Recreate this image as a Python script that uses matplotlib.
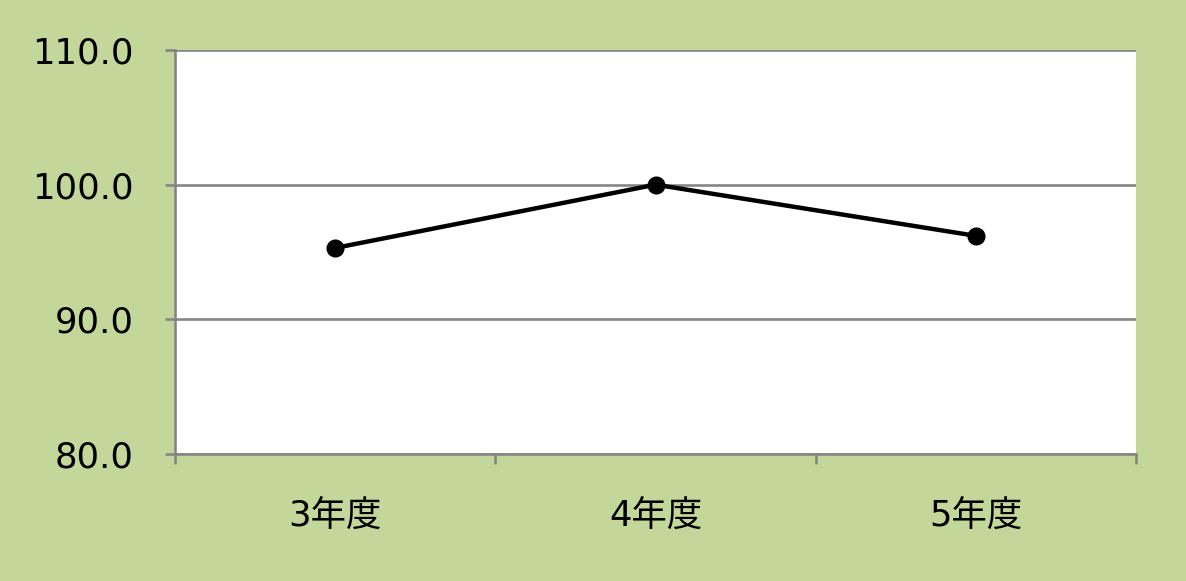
import matplotlib
matplotlib.use("Agg")
import matplotlib.pyplot as plt

plt.rcParams['font.family'] = ['DejaVu Sans', 'Noto Sans CJK JP']

# data
categories = ["3年度", "4年度", "5年度"]
values = [95.3, 100.0, 96.2]
y_ticks = [80.0, 90.0, 100.0, 110.0]

bg = "#C4D79B"
grey = "#868686"

fig = plt.figure(figsize=(11.86, 5.81), dpi=100, facecolor=bg)
ax = fig.add_axes([175 / 1186, (581 - 454) / 581, (1136 - 175) / 1186, (454 - 50) / 581])
ax.set_facecolor("white")

x = list(range(len(categories)))
ax.plot(x, values, color="black", lw=3.2, marker="o", ms=12, zorder=3)

ax.set_xlim(-0.5, len(categories) - 0.5)
ax.set_ylim(y_ticks[0], y_ticks[-1])

ax.set_yticks(y_ticks)
ax.set_yticklabels([f"{v:.1f}" for v in y_ticks])
ax.yaxis.grid(True, color=grey, lw=1.9)
ax.set_axisbelow(True)

ax.set_xticks(x)
ax.set_xticklabels(categories)
ax.set_xticks([i - 0.5 for i in range(len(categories) + 1)], minor=True)

for s in ["top", "right"]:
    ax.spines[s].set_visible(False)
for s in ["left", "bottom"]:
    ax.spines[s].set_color(grey)
    ax.spines[s].set_linewidth(1.9)

ax.tick_params(axis="y", length=7.5, width=1.9, color=grey, pad=22, labelsize=25.5)
ax.tick_params(axis="x", which="major", length=0, pad=33, labelsize=25.5)
ax.tick_params(axis="x", which="minor", length=7.5, width=1.9, color=grey)

fig.savefig("out.png", dpi=100, facecolor=bg)
